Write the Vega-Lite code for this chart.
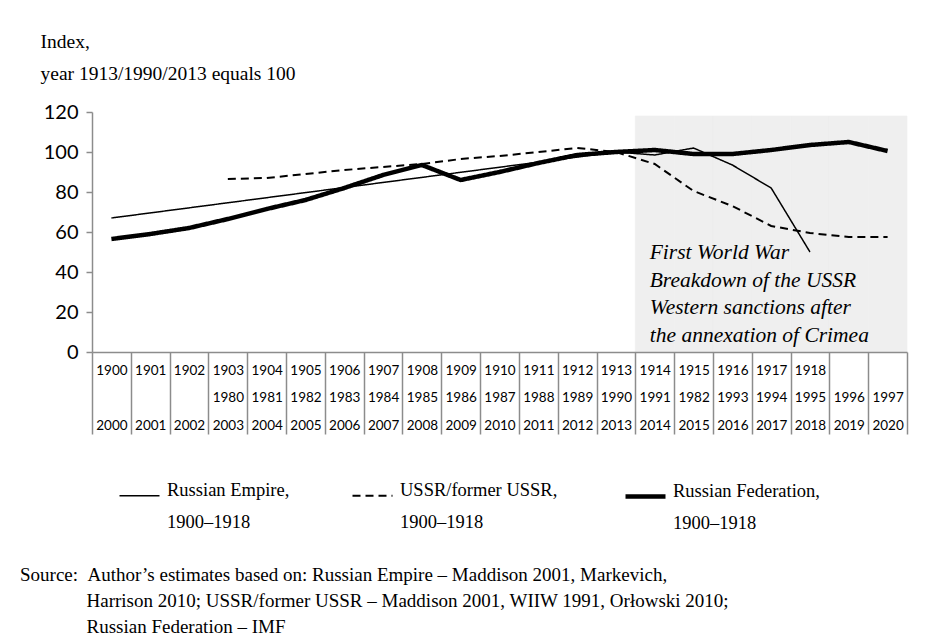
{
  "$schema": "https://vega.github.io/schema/vega-lite/v6.json",
  "width": 815,
  "height": 240,
  "autosize": "none",
  "padding": {"left": 92, "top": 112, "right": 40, "bottom": 289},
  "background": "white",
  "config": {"view": {"stroke": null}, "font": "Liberation Serif", "style": {"guide-label": {"lineHeight": 32}}},
  "datasets": {
    "series": [
      {"p": "1900||2000", "s": "Russian Empire, 1900–1918", "v": 67},
      {"p": "1913|1990|2013", "s": "Russian Empire, 1900–1918", "v": 100},
      {"p": "1914|1991|2014", "s": "Russian Empire, 1900–1918", "v": 98.5},
      {"p": "1915|1982|2015", "s": "Russian Empire, 1900–1918", "v": 102},
      {"p": "1916|1993|2016", "s": "Russian Empire, 1900–1918", "v": 93.5},
      {"p": "1917|1994|2017", "s": "Russian Empire, 1900–1918", "v": 82},
      {"p": "1918|1995|2018", "s": "Russian Empire, 1900–1918", "v": 50},
      {"p": "1903|1980|2003", "s": "USSR/former USSR, 1900–1918", "v": 86.5},
      {"p": "1904|1981|2004", "s": "USSR/former USSR, 1900–1918", "v": 87},
      {"p": "1905|1982|2005", "s": "USSR/former USSR, 1900–1918", "v": 89},
      {"p": "1906|1983|2006", "s": "USSR/former USSR, 1900–1918", "v": 91},
      {"p": "1907|1984|2007", "s": "USSR/former USSR, 1900–1918", "v": 92.5},
      {"p": "1908|1985|2008", "s": "USSR/former USSR, 1900–1918", "v": 94},
      {"p": "1909|1986|2009", "s": "USSR/former USSR, 1900–1918", "v": 96.5},
      {"p": "1910|1987|2010", "s": "USSR/former USSR, 1900–1918", "v": 98},
      {"p": "1911|1988|2011", "s": "USSR/former USSR, 1900–1918", "v": 100},
      {"p": "1912|1989|2012", "s": "USSR/former USSR, 1900–1918", "v": 102},
      {"p": "1913|1990|2013", "s": "USSR/former USSR, 1900–1918", "v": 100},
      {"p": "1914|1991|2014", "s": "USSR/former USSR, 1900–1918", "v": 94},
      {"p": "1915|1982|2015", "s": "USSR/former USSR, 1900–1918", "v": 80.5},
      {"p": "1916|1993|2016", "s": "USSR/former USSR, 1900–1918", "v": 73},
      {"p": "1917|1994|2017", "s": "USSR/former USSR, 1900–1918", "v": 63},
      {"p": "1918|1995|2018", "s": "USSR/former USSR, 1900–1918", "v": 59.5},
      {"p": "|1996|2019", "s": "USSR/former USSR, 1900–1918", "v": 57.5},
      {"p": "|1997|2020", "s": "USSR/former USSR, 1900–1918", "v": 57.5},
      {"p": "1900||2000", "s": "Russian Federation, 1900–1918", "v": 56.5},
      {"p": "1901||2001", "s": "Russian Federation, 1900–1918", "v": 59},
      {"p": "1902||2002", "s": "Russian Federation, 1900–1918", "v": 62},
      {"p": "1903|1980|2003", "s": "Russian Federation, 1900–1918", "v": 66.5},
      {"p": "1904|1981|2004", "s": "Russian Federation, 1900–1918", "v": 71.5},
      {"p": "1905|1982|2005", "s": "Russian Federation, 1900–1918", "v": 76},
      {"p": "1906|1983|2006", "s": "Russian Federation, 1900–1918", "v": 82},
      {"p": "1907|1984|2007", "s": "Russian Federation, 1900–1918", "v": 88.5},
      {"p": "1908|1985|2008", "s": "Russian Federation, 1900–1918", "v": 93.5},
      {"p": "1909|1986|2009", "s": "Russian Federation, 1900–1918", "v": 86},
      {"p": "1910|1987|2010", "s": "Russian Federation, 1900–1918", "v": 90},
      {"p": "1911|1988|2011", "s": "Russian Federation, 1900–1918", "v": 94.5},
      {"p": "1912|1989|2012", "s": "Russian Federation, 1900–1918", "v": 98.5},
      {"p": "1913|1990|2013", "s": "Russian Federation, 1900–1918", "v": 100},
      {"p": "1914|1991|2014", "s": "Russian Federation, 1900–1918", "v": 101},
      {"p": "1915|1982|2015", "s": "Russian Federation, 1900–1918", "v": 99},
      {"p": "1916|1993|2016", "s": "Russian Federation, 1900–1918", "v": 99},
      {"p": "1917|1994|2017", "s": "Russian Federation, 1900–1918", "v": 101},
      {"p": "1918|1995|2018", "s": "Russian Federation, 1900–1918", "v": 103.5},
      {"p": "|1996|2019", "s": "Russian Federation, 1900–1918", "v": 105},
      {"p": "|1997|2020", "s": "Russian Federation, 1900–1918", "v": 100.5}
    ],
    "shade": [
      {"p": "1914|1991|2014", "v": 118},
      {"p": "1915|1982|2015", "v": 118},
      {"p": "1916|1993|2016", "v": 118},
      {"p": "1917|1994|2017", "v": 118},
      {"p": "1918|1995|2018", "v": 118},
      {"p": "|1996|2019", "v": 118},
      {"p": "|1997|2020", "v": 118}
    ],
    "note": [
      {"p": "1914|1991|2014", "v": 55, "t": ["First World War", "Breakdown of the USSR", "Western sanctions after", "the annexation of Crimea"]}
    ]
  },
  "title": {
    "text": [
      "Source:\u00a0\u00a0Author’s estimates based on: Russian Empire – Maddison 2001, Markevich,",
      "\u200b\u00a0\u00a0\u00a0\u00a0\u00a0\u00a0\u00a0\u00a0\u00a0\u00a0\u00a0\u00a0\u00a0\u00a0Harrison 2010; USSR/former USSR – Maddison 2001, WIIW 1991, Orłowski 2010;",
      "\u200b\u00a0\u00a0\u00a0\u00a0\u00a0\u00a0\u00a0\u00a0\u00a0\u00a0\u00a0\u00a0\u00a0\u00a0Russian Federation – IMF"
    ],
    "orient": "bottom",
    "anchor": "start",
    "frame": "group",
    "align": "left",
    "dx": -72,
    "offset": 34,
    "font": "Liberation Serif",
    "fontSize": 19,
    "fontWeight": "normal",
    "lineHeight": 26,
    "color": "black"
  },
  "encoding": {
    "x": {
      "field": "p",
      "type": "nominal",
      "title": null,
      "sort": null,
      "scale": {
        "domain": ["1900||2000", "1901||2001", "1902||2002", "1903|1980|2003", "1904|1981|2004", "1905|1982|2005", "1906|1983|2006", "1907|1984|2007", "1908|1985|2008", "1909|1986|2009", "1910|1987|2010", "1911|1988|2011", "1912|1989|2012", "1913|1990|2013", "1914|1991|2014", "1915|1982|2015", "1916|1993|2016", "1917|1994|2017", "1918|1995|2018", "|1996|2019", "|1997|2020"],
        "paddingInner": 0,
        "paddingOuter": 0
      },
      "axis": {
        "tickBand": "extent",
        "tickSize": 82,
        "tickColor": "#8c8c8c",
        "tickWidth": 1.5,
        "domainColor": "#8c8c8c",
        "domainWidth": 1.5,
        "labelAngle": 0,
        "labelExpr": "[split(datum.label, '|')[0] || '\u200b', split(datum.label, '|')[1] || '\u200b', split(datum.label, '|')[2] || '\u200b']",
        "labelFont": "Lato",
        "labelFontSize": 13.5,
        "labelColor": "black",
        "labelBaseline": "top",
        "labelLineHeight": 27.5,
        "labelPadding": -71,
        "labelAlign": "center",
        "labelOverlap": false,
        "labelBound": false,
        "labelLimit": 0
      }
    },
    "y": {
      "field": "v",
      "type": "quantitative",
      "title": ["Index,", "year 1913/1990/2013 equals 100"],
      "scale": {"domain": [0, 120]},
      "axis": {
        "values": [0, 20, 40, 60, 80, 100, 120],
        "grid": false,
        "labelOverlap": false,
        "tickSize": 6,
        "tickColor": "#8c8c8c",
        "tickWidth": 1.5,
        "domainColor": "#8c8c8c",
        "domainWidth": 1.5,
        "labelFont": "Lato",
        "labelFontSize": 20,
        "labelColor": "black",
        "labelPadding": 8,
        "titleAngle": 0,
        "titleAlign": "left",
        "titleBaseline": "top",
        "titleX": -52,
        "titleY": -80,
        "titleFont": "Liberation Serif",
        "titleFontSize": 19.5,
        "titleFontWeight": "normal",
        "titleLineHeight": 32,
        "titleColor": "black"
      }
    }
  },
  "layer": [
    {
      "data": {"name": "shade"},
      "mark": {"type": "rect", "color": "#efefef", "stroke": "#efefef", "strokeWidth": 0.6},
      "encoding": {
        "y2": {"datum": 0}
      }
    },
    {
      "data": {"name": "series"},
      "mark": {"type": "line", "color": "black", "strokeCap": "butt"},
      "encoding": {
        "strokeDash": {
          "field": "s",
          "type": "nominal",
          "scale": {
            "domain": ["Russian Empire, 1900–1918", "USSR/former USSR, 1900–1918", "Russian Federation, 1900–1918"],
            "range": [[1, 0], [8, 5], [1, 0]]
          },
          "legend": {
            "orient": "none",
            "legendX": 25,
            "legendY": 362,
            "direction": "horizontal",
            "columns": 3,
            "title": null,
            "padding": 0,
            "symbolType": "stroke",
            "symbolSize": 1600,
            "symbolStrokeColor": "black",
            "labelFont": "Liberation Serif",
            "labelFontSize": 18.5,
            "labelColor": "black",
            "labelExpr": "split(replace(datum.label, ', ', ',|'), '|')",
            "labelLimit": 300,
            "labelBaseline": "alphabetic",
            "labelOffset": 5,
            "columnPadding": 58
          }
        },
        "strokeWidth": {
          "field": "s",
          "type": "nominal",
          "scale": {
            "type": "ordinal",
            "domain": ["Russian Empire, 1900–1918", "USSR/former USSR, 1900–1918", "Russian Federation, 1900–1918"],
            "range": [1.5, 2, 4.5]
          },
          "legend": {
            "orient": "none",
            "legendX": 25,
            "legendY": 362,
            "direction": "horizontal",
            "columns": 3,
            "title": null,
            "padding": 0,
            "symbolType": "stroke",
            "symbolSize": 1600,
            "symbolStrokeColor": "black",
            "labelFont": "Liberation Serif",
            "labelFontSize": 18.5,
            "labelColor": "black",
            "labelExpr": "split(replace(datum.label, ', ', ',|'), '|')",
            "labelLimit": 300,
            "labelBaseline": "alphabetic",
            "labelOffset": 5,
            "columnPadding": 58
          }
        }
      }
    },
    {
      "data": {"name": "note"},
      "mark": {"type": "text", "align": "left", "baseline": "top", "font": "Liberation Serif", "fontStyle": "italic", "fontSize": 21.5, "lineHeight": 27.5, "dx": -5, "color": "black"},
      "encoding": {
        "text": {"field": "t"}
      }
    }
  ]
}
